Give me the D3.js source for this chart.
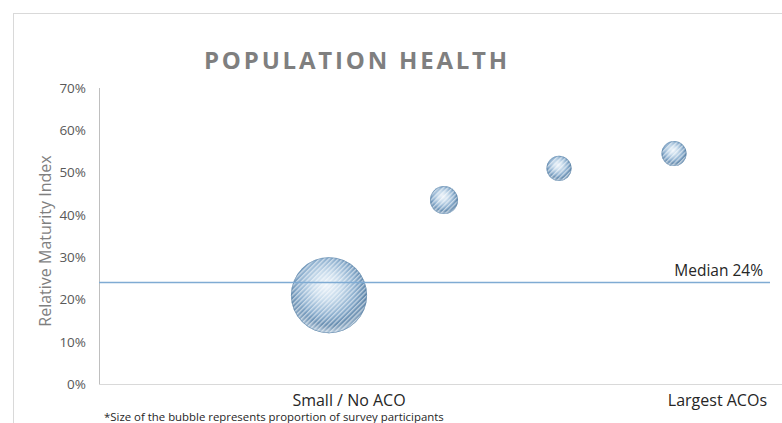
<!DOCTYPE html>
<html>
<head>
<meta charset="utf-8">
<script src="https://cdn.jsdelivr.net/npm/d3@7/dist/d3.min.js"></script>
<style>
  html, body { margin: 0; padding: 0; background: #fff; }
  svg { display: block; font-family: "Open Sans", "Noto Sans", sans-serif; }
</style>
</head>
<body>
<svg id="chart" width="782" height="423"></svg>
<script>
// Bubble positions along the size axis (1 = smallest orgs, 4 = largest ACOs)
const groups = [1, 2, 3, 4];
// Relative maturity index (%) per group
const maturity = [21, 43.5, 51, 54.5];
// Share of survey participants per group (bubble area)
const share = [0.74, 0.10, 0.08, 0.08];
// Median maturity across all participants (%)
const median = 24;
// Y-axis tick values (%)
const yTicks = [0, 10, 20, 30, 40, 50, 60, 70];
const endLabels = ["Small / No ACO", "Largest ACOs"];

const svg = d3.select("#chart");
const W = 782, H = 423;

const x = d3.scaleLinear().domain([-1, 5]).range([99, 789]);
const y = d3.scaleLinear().domain([0, 70]).range([384, 88]);
const r = d3.scaleSqrt().domain([0, 1]).range([0, 44.2]);

const defs = svg.append("defs");

// Sphere shading
const rg = defs.append("radialGradient").attr("id", "sphere")
  .attr("cx", "48%").attr("cy", "42%").attr("r", "60%")
  .attr("fx", "46%").attr("fy", "36%");
[["0%", "#eef4fa"], ["30%", "#c9dcec"], ["62%", "#8eb0cf"], ["85%", "#5f86aa"], ["100%", "#4a7094"]]
  .forEach(([o, c]) => rg.append("stop").attr("offset", o).attr("stop-color", c));

// Light rim along the lower edge
const rim = defs.append("radialGradient").attr("id", "rim")
  .attr("cx", "50%").attr("cy", "50%").attr("r", "50%");
rim.append("stop").attr("offset", "0%").attr("stop-color", "#ffffff").attr("stop-opacity", 0);
rim.append("stop").attr("offset", "78%").attr("stop-color", "#ffffff").attr("stop-opacity", 0);
rim.append("stop").attr("offset", "97%").attr("stop-color", "#dcebf8").attr("stop-opacity", 0.75);
rim.append("stop").attr("offset", "100%").attr("stop-color", "#b9d2e8").attr("stop-opacity", 0.6);
const rimMask = defs.append("linearGradient").attr("id", "rimFade")
  .attr("x1", 0).attr("y1", 0).attr("x2", 0).attr("y2", 1);
rimMask.append("stop").attr("offset", "0%").attr("stop-color", "#000");
rimMask.append("stop").attr("offset", "55%").attr("stop-color", "#000");
rimMask.append("stop").attr("offset", "100%").attr("stop-color", "#fff");
defs.append("mask").attr("id", "lowerHalf").attr("maskContentUnits", "objectBoundingBox")
  .append("rect").attr("width", 1).attr("height", 1).attr("fill", "url(#rimFade)");

// Diagonal hatch over the spheres
const hatch = defs.append("pattern").attr("id", "hatch")
  .attr("patternUnits", "userSpaceOnUse").attr("width", 3.3).attr("height", 3.3)
  .attr("patternTransform", "rotate(45)");
hatch.append("rect").attr("x", 0).attr("y", 0).attr("width", 1.3).attr("height", 3.3)
  .attr("fill", "#ffffff").attr("fill-opacity", 0.55);

// Outer frame
svg.append("rect").attr("x", 13.5).attr("y", 13.5).attr("width", 820).attr("height", 500)
  .attr("fill", "none").attr("stroke", "#d9d9d9").attr("stroke-width", 1);

// Title
svg.append("text").attr("x", 357).attr("y", 69).attr("text-anchor", "middle")
  .attr("font-size", 24).attr("font-weight", 700).attr("letter-spacing", 2.8)
  .attr("fill", "#7f7f7f").text("POPULATION HEALTH");

// Axes lines
svg.append("line").attr("x1", x.range()[0] + 0.5).attr("x2", x.range()[0] + 0.5)
  .attr("y1", y(70)).attr("y2", y(0)).attr("stroke", "#bfbfbf");
svg.append("line").attr("x1", x.range()[0]).attr("x2", W)
  .attr("y1", y(0) + 0.5).attr("y2", y(0) + 0.5).attr("stroke", "#d9d9d9");

// Y tick labels
const yAxis = d3.axisLeft(y).tickValues(yTicks).tickSize(0).tickPadding(13)
  .tickFormat(d => d + "%");
const ya = svg.append("g").attr("transform", `translate(${x.range()[0]},0)`).call(yAxis);
ya.select(".domain").remove();
ya.selectAll("text").attr("font-size", 13.5).attr("fill", "#595959")
  .attr("font-family", "'Open Sans', sans-serif");

// Y-axis title
svg.append("text").attr("transform", "translate(51,241) rotate(-90)")
  .attr("text-anchor", "middle").attr("font-size", 16).attr("fill", "#7f7f7f")
  .text("Relative Maturity Index");

// Bubbles
const pts = groups.map((g, i) => ({ g, v: maturity[i], s: share[i] }));
const b = svg.append("g").selectAll("g").data(pts).join("g")
  .attr("transform", d => `translate(${x(d.g)},${y(d.v)})`);
b.append("circle").attr("r", d => r(d.s)).attr("fill", "url(#sphere)");
b.append("circle").attr("r", d => r(d.s)).attr("fill", "url(#rim)").attr("mask", "url(#lowerHalf)");
b.append("circle").attr("r", d => r(d.s)).attr("fill", "url(#hatch)");
b.append("circle").attr("r", d => r(d.s) - 0.4).attr("fill", "none")
  .attr("stroke", "#5f86aa").attr("stroke-opacity", 0.6).attr("stroke-width", 0.8);

// Median line and label
svg.append("line").attr("x1", x.range()[0]).attr("x2", 770)
  .attr("y1", y(median)).attr("y2", y(median))
  .attr("stroke", "#7fabd3").attr("stroke-width", 1.4);
svg.append("text").attr("x", 763).attr("y", y(median) - 7).attr("text-anchor", "end")
  .attr("font-size", 15.5).attr("fill", "#262626").text("Median " + median + "%");

// End labels of the size axis
svg.append("text").attr("x", 349).attr("y", 406).attr("text-anchor", "middle")
  .attr("font-size", 16).attr("fill", "#262626").text(endLabels[0]);
svg.append("text").attr("x", 767).attr("y", 406).attr("text-anchor", "end")
  .attr("font-size", 16).attr("fill", "#262626").text(endLabels[1]);

// Footnote
svg.append("text").attr("x", 104).attr("y", 421).attr("font-size", 11.4)
  .attr("fill", "#262626").text("*Size of the bubble represents proportion of survey participants");
</script>
</body>
</html>
